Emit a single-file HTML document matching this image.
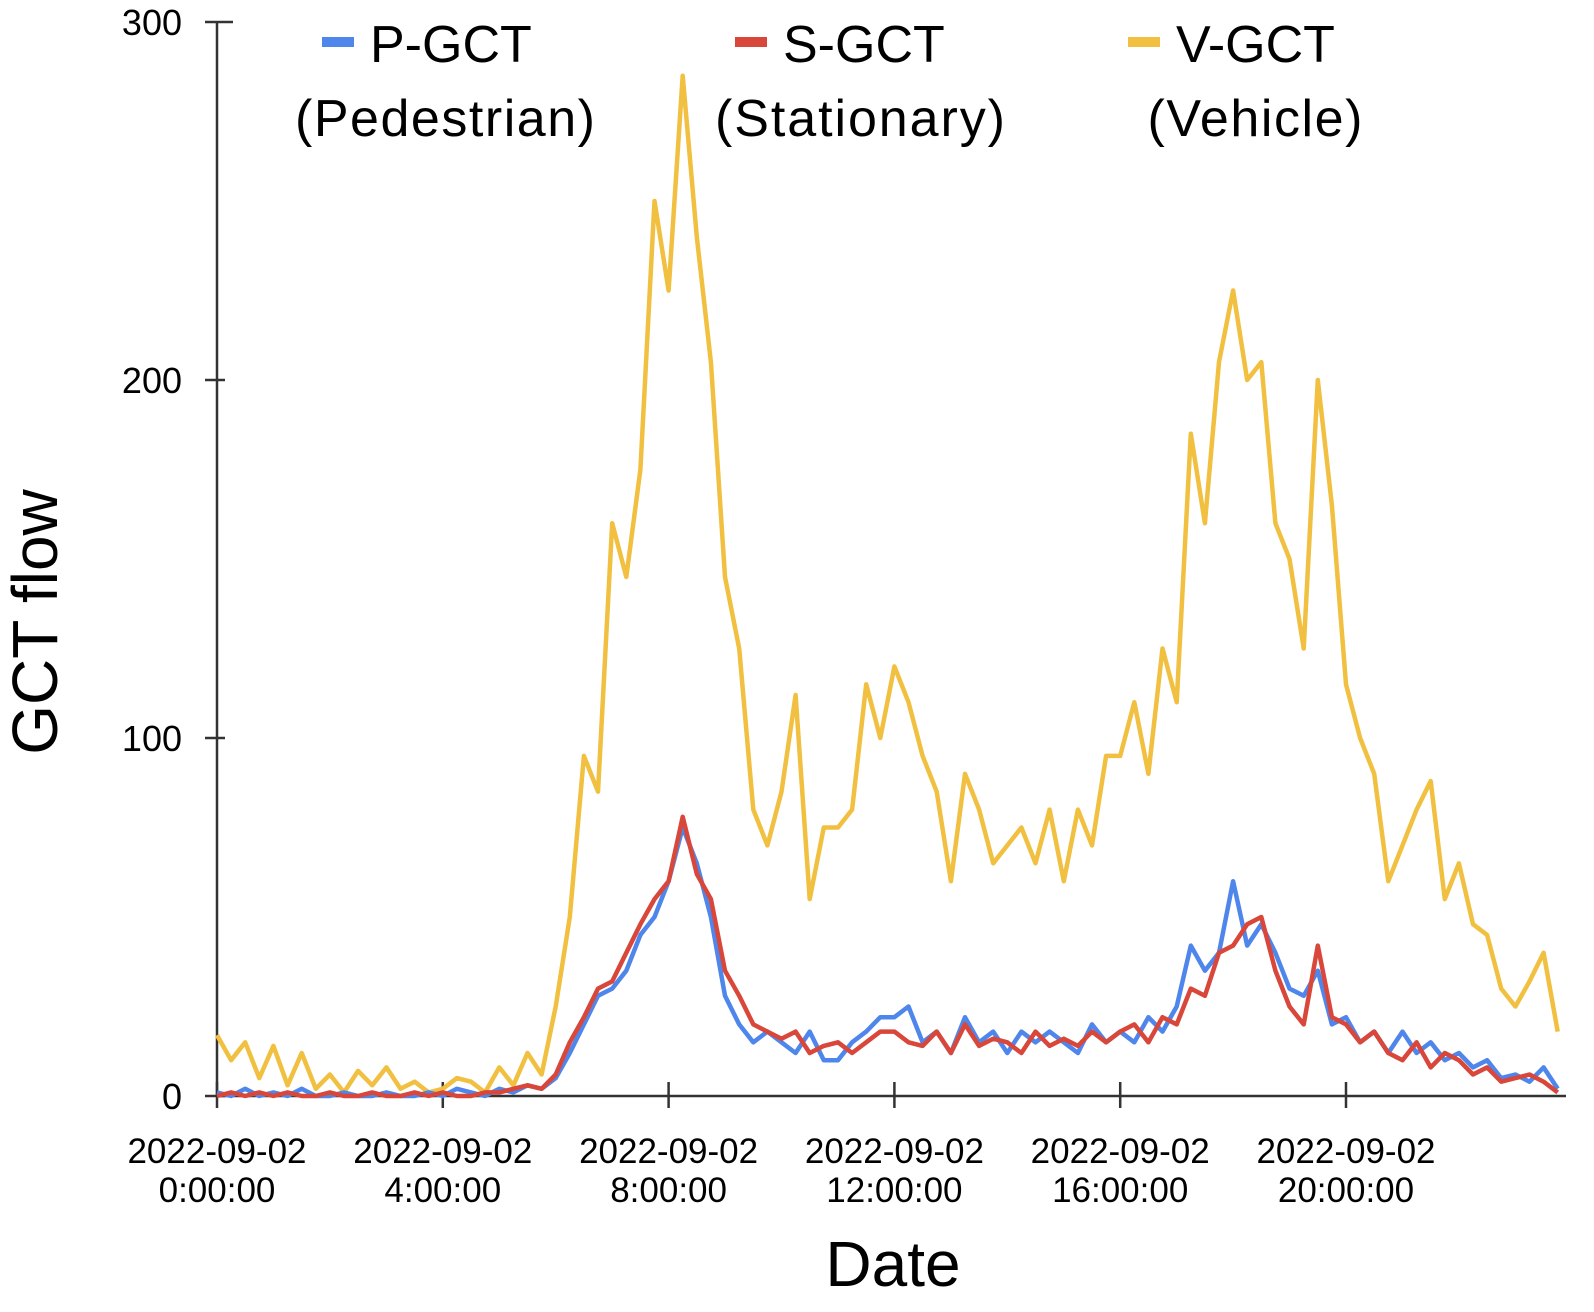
<!DOCTYPE html>
<html><head><meta charset="utf-8">
<style>
html,body{margin:0;padding:0;background:#fff;}
svg{display:block;}
text{font-family:"Liberation Sans",sans-serif;fill:#000;}
</style></head>
<body>
<svg id="chart" width="1594" height="1312" viewBox="0 0 1594 1312" xmlns="http://www.w3.org/2000/svg">
<g id="axes"></g>
<g id="series"></g>
<g id="legend"></g>
<text x="0" y="0" font-size="64" text-anchor="middle" transform="translate(57,622) rotate(-90)">GCT flow</text>
<text x="893" y="1286" font-size="64" text-anchor="middle">Date</text>
</svg>
<script>
const yTicks = [0, 100, 200, 300];
const xTickHours = [0, 4, 8, 12, 16, 20];
const xTickLine1 = ["2022-09-02","2022-09-02","2022-09-02","2022-09-02","2022-09-02","2022-09-02"];
const xTickLine2 = ["0:00:00","4:00:00","8:00:00","12:00:00","16:00:00","20:00:00"];
const stepHours = 0.25;
const vehicle = [17,10,15,5, 14,3,12,2, 6,1,7,3, 8,2,4,1, 2,5,4,1, 8,3,12,6,
  25,50,95,85, 160,145,175,250, 225,285,240,205, 145,125,80,70, 85,112,55,75,
  75,80,115,100, 120,110,95,85, 60,90,80,65, 70,75,65,80, 60,80,70,95,
  95,110,90,125, 110,185,160,205, 225,200,205,160, 150,125,200,165,
  115,100,90,60, 70,80,88,55, 65,48,45,30, 25,32,40,18];
const pedestrian = [1,0,2,0, 1,0,2,0, 0,1,0,0, 1,0,0,1, 0,2,1,0, 2,1,3,2,
  5,12,20,28, 30,35,45,50, 60,75,65,50, 28,20,15,18, 15,12,18,10,
  10,15,18,22, 22,25,15,18, 12,22,15,18, 12,18,15,18, 15,12,20,15,
  18,15,22,18, 25,42,35,40, 60,42,48,40, 30,28,35,20,
  22,15,18,12, 18,12,15,10, 12,8,10,5, 6,4,8,2];
const stationary = [0,1,0,1, 0,1,0,0, 1,0,0,1, 0,0,1,0, 1,0,0,1, 1,2,3,2,
  6,15,22,30, 32,40,48,55, 60,78,62,55, 35,28,20,18, 16,18,12,14,
  15,12,15,18, 18,15,14,18, 12,20,14,16, 15,12,18,14, 16,14,18,15,
  18,20,15,22, 20,30,28,40, 42,48,50,35, 25,20,42,22,
  20,15,18,12, 10,15,8,12, 10,6,8,4, 5,6,4,1];

const X0 = 217, pxPerHour = 56.45, Y0 = 1096, pxPerUnit = 3.58;
function xs(h){ return X0 + h*pxPerHour; }
function ys(v){ return Y0 - v*pxPerUnit; }
const NS = "http://www.w3.org/2000/svg";
function mk(tag, attrs, parent){ const e = document.createElementNS(NS, tag); for (const k in attrs) e.setAttribute(k, attrs[k]); parent.appendChild(e); return e; }

const axes = document.getElementById('axes');
let el = mk('line', {x1:X0, y1:ys(300), x2:X0, y2:Y0, stroke:'#333', 'stroke-width':2.5}, axes);


el = mk('line', {x1:X0, y1:Y0, x2:1566, y2:Y0, stroke:'#333', 'stroke-width':2.5}, axes);


yTicks.forEach(t => {
  const tk = mk('line', {x1:X0-12, y1:ys(t), x2:X0+(t===300?16:8), y2:ys(t), stroke:'#333', 'stroke-width':2.5}, axes);
  
  
  const lb = mk('text', {x:X0-35, y:ys(t)+13, 'font-size':36, 'text-anchor':'end', fill:'#222'}, axes);
  lb.textContent = t;
  
  
});
xTickHours.forEach((h, i) => {
  const tk = mk('line', {x1:xs(h), y1:Y0-14, x2:xs(h), y2:Y0+12, stroke:'#333', 'stroke-width':2.5}, axes);
  
  
  const lb = mk('text', {x:xs(h), y:1163, 'font-size':35, 'text-anchor':'middle', fill:'#222'}, axes);
  lb.textContent = xTickLine1[i];
  
  
  const lb2 = mk('text', {x:xs(h), y:1202, 'font-size':35, 'text-anchor':'middle', fill:'#222'}, axes);
  lb2.textContent = xTickLine2[i];
  
  
});

const series = document.getElementById('series');
function drawLine(vals, color, name){
  const d = vals.map((v,i) => (i?'L':'M') + xs(i*stepHours).toFixed(1) + ' ' + ys(v).toFixed(1)).join(' ');
  const p = mk('path', {d:d, fill:'none', stroke:color, 'stroke-width':4.5, 'stroke-linejoin':'round'}, series);
  
  
}
drawLine(vehicle, '#f1c040', 'v-gct-line');
drawLine(pedestrian, '#4f86ec', 'p-gct-line');
drawLine(stationary, '#d8473a', 's-gct-line');

const legend = document.getElementById('legend');
const legItems = [
  {sx:322, cx:445, t1:'P-GCT', t2:'(Pedestrian)', w2:300, c:'#4f86ec', n:'legend-entry-p-gct'},
  {sx:735, cx:860, t1:'S-GCT', t2:'(Stationary)', w2:290, c:'#d8473a', n:'legend-entry-s-gct'},
  {sx:1128, cx:1255, t1:'V-GCT', t2:'(Vehicle)', w2:215, c:'#f1c040', n:'legend-entry-v-gct'}
];
legItems.forEach(it => {
  const g = mk('g', {}, legend);
  
  
  mk('rect', {x:it.sx, y:37, width:32, height:10, fill:it.c}, g);
  const a = mk('text', {x:it.sx+48, y:62, 'font-size':52}, g);
  a.textContent = it.t1;
  const b = mk('text', {x:it.cx, y:136, 'font-size':52, 'text-anchor':'middle', textLength:it.w2, lengthAdjust:'spacing'}, g);
  b.textContent = it.t2;
});
</script>
</body></html>
